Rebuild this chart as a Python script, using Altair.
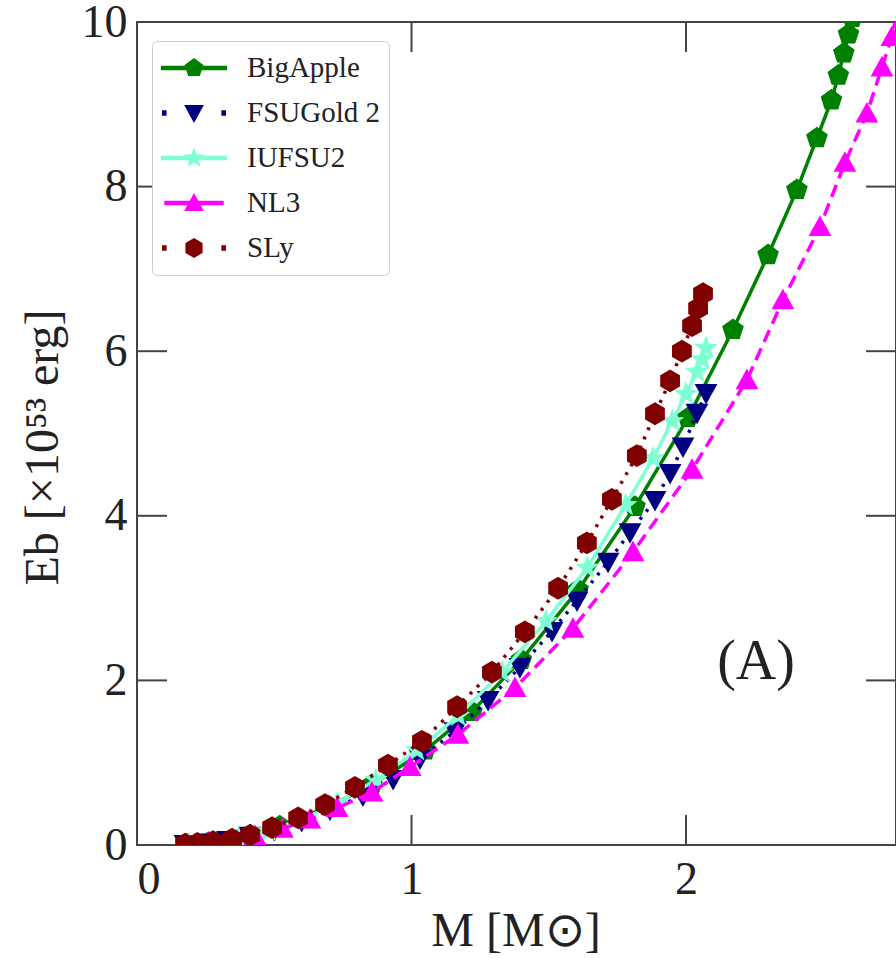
import math
import altair as alt
import pandas as pd

# ---- data: binding energy vs. gravitational mass for five EoS ----
SERIES = ["BigApple", "FSUGold 2", "IUFSU2", "NL3", "SLy"]
COLORS = ["#008000", "#000080", "#7fffd4", "#ff00ff", "#800000"]

BIGAPPLE_M = [0.18, 0.26, 0.375, 0.52, 0.70, 0.856, 1.05, 1.22, 1.40, 1.607, 1.814,
              2.007, 2.171, 2.299, 2.404, 2.477, 2.53, 2.555, 2.575, 2.592, 2.606, 2.62]
BIGAPPLE_EB = [0.01, 0.03, 0.08, 0.23, 0.47, 0.73, 1.15, 1.62, 2.25, 3.10, 4.11,
               5.19, 6.26, 7.17, 7.96, 8.59, 9.05, 9.35, 9.62, 9.85, 10.05, 10.25]

FSUGOLD2_M = [0.175, 0.25, 0.33, 0.412, 0.50, 0.60, 0.703, 0.823, 0.933, 1.031, 1.158,
              1.279, 1.395, 1.512, 1.603, 1.716, 1.796, 1.887, 1.942, 1.989, 2.040, 2.073]
FSUGOLD2_EB = [0.01, 0.03, 0.06, 0.11, 0.18, 0.29, 0.43, 0.60, 0.80, 1.05, 1.38,
               1.76, 2.16, 2.60, 2.97, 3.44, 3.80, 4.19, 4.52, 4.84, 5.25, 5.49]

IUFSU2_M = [0.19, 0.27, 0.37, 0.48, 0.60, 0.73, 0.87, 1.02, 1.17, 1.33, 1.49, 1.64,
            1.78, 1.88, 1.95, 2.00, 2.04, 2.06, 2.073]
IUFSU2_EB = [0.01, 0.03, 0.08, 0.17, 0.31, 0.51, 0.79, 1.15, 1.57, 2.10, 2.72, 3.37,
             4.13, 4.70, 5.15, 5.48, 5.75, 5.90, 6.04]

NL3_M = [0.18, 0.26, 0.34, 0.43, 0.53, 0.63, 0.729, 0.856, 0.995, 1.169, 1.377, 1.588,
         1.807, 2.022, 2.222, 2.353, 2.488, 2.579, 2.659, 2.714, 2.750, 2.78]
NL3_EB = [0.01, 0.03, 0.06, 0.11, 0.20, 0.31, 0.45, 0.64, 0.95, 1.34, 1.91, 2.63,
          3.56, 4.56, 5.65, 6.62, 7.51, 8.29, 8.89, 9.45, 9.82, 10.3]

SLY_M = [0.175, 0.22, 0.277, 0.346, 0.412, 0.492, 0.587, 0.685, 0.794, 0.914, 1.038,
         1.166, 1.293, 1.413, 1.534, 1.639, 1.730, 1.821, 1.887, 1.942, 1.985, 2.022,
         2.044, 2.062]
SLY_EB = [0.01, 0.02, 0.04, 0.07, 0.12, 0.21, 0.33, 0.49, 0.70, 0.97, 1.26, 1.68, 2.10,
          2.59, 3.12, 3.67, 4.20, 4.73, 5.24, 5.64, 6.00, 6.31, 6.52, 6.70]

X_TICKS = [0, 1, 2]
Y_TICKS = [0, 2, 4, 6, 8, 10]
PANEL_LABEL = "(A)"
PANEL_POS = (2.255, 2.22)

# ---- layout / style ----
W, H = 759, 823
FONT = "Liberation Serif"
AXC = "#444444"
TICK_LEN = 30


def poly(points):
    return "M" + " L".join(f"{x:.3f},{y:.3f}" for x, y in points) + " Z"


def regular(n, r=1.0, rot=-90.0, sx=1.0):
    return [(sx * r * math.cos(math.radians(rot + 360.0 * k / n)),
             sx * r * math.sin(math.radians(rot + 360.0 * k / n))) for k in range(n)]


def star(ro=1.0, ri=0.40, s=1.0):
    pts = []
    for k in range(10):
        r = ro if k % 2 == 0 else ri
        a = math.radians(-90 + 36 * k)
        pts.append((s * r * math.cos(a), s * r * math.sin(a)))
    return pts


def tri_up(s=1.0):
    return [(0, -s), (s, 0.8 * s), (-s, 0.8 * s)]


def tri_down(s=1.0):
    return [(-s, -0.8 * s), (s, -0.8 * s), (0, s)]


MARKERS = {
    "BigApple": regular(5, 1.0, -90, 1.0),
    "FSUGold 2": tri_down(1.0),
    "IUFSU2": star(1.0, 0.42, 1.1),
    "NL3": tri_up(1.0),
    "SLy": regular(6, 1.0, -90, 1.0),
}
DASHES = {"BigApple": None, "FSUGold 2": [3, 7], "IUFSU2": None, "NL3": [13, 7], "SLy": [3, 7]}

# legend glyphs: line sample plus marker, drawn as one filled path
LS = 0.30  # marker scale inside the legend glyph


def rect(x0, x1, h):
    return [(x0, -h), (x1, -h), (x1, h), (x0, h)]


def legend_path(name):
    mk = [(x * LS, y * LS) for x, y in MARKERS[name]]
    if name in ("BigApple", "IUFSU2"):
        line = poly(rect(-1, 1, 0.065))
    elif name == "NL3":
        line = poly(rect(-0.9, 0.9, 0.065))
    else:
        line = poly(rect(-0.97, -0.83, 0.08)) + " " + poly(rect(0.83, 0.97, 0.08))
    return line + " " + poly(mk)


LEGEND_PATHS = [legend_path(s) for s in SERIES]

xscale = alt.Scale(domain=[0, 2.765], nice=False, zero=False)
yscale = alt.Scale(domain=[0, 10], nice=False)

xaxis = alt.Axis(values=X_TICKS, format="d", ticks=False, domain=False, grid=False,
                 labelFont=FONT, labelFontSize=46, labelColor="#222", labelPadding=12,
                 title="M [M\u2299]", titleFont=FONT, titleFontSize=48,
                 titleFontWeight="normal", titleColor="#222",
                 titleX=W / 2 - 1, titleY=86, titleBaseline="middle")
yaxis = alt.Axis(values=Y_TICKS, format="d", ticks=False, domain=False, grid=False,
                 labelFont=FONT, labelFontSize=46, labelColor="#222", labelPadding=10,
                 title="Eb [\u00d710\u2075\u00b3 erg]", titleFont=FONT, titleFontSize=48,
                 titleFontWeight="normal", titleColor="#222", titleAngle=-90,
                 titleX=-94, titleY=425, titleAlign="center", titleBaseline="middle")

X = alt.X("M:Q", scale=xscale, axis=xaxis)
Y = alt.Y("Eb:Q", scale=yscale, axis=yaxis)

values = {
    "BigApple": (BIGAPPLE_M, BIGAPPLE_EB),
    "FSUGold 2": (FSUGOLD2_M, FSUGOLD2_EB),
    "IUFSU2": (IUFSU2_M, IUFSU2_EB),
    "NL3": (NL3_M, NL3_EB),
    "SLy": (SLY_M, SLY_EB),
}

layers = []
for name, color in zip(SERIES, COLORS):
    m, eb = values[name]
    df = pd.DataFrame({"M": m, "Eb": eb})
    line_kw = dict(color=color, strokeWidth=3.5, clip=True)
    if DASHES[name]:
        line_kw["strokeDash"] = DASHES[name]
    line = alt.Chart(df).mark_line(**line_kw).encode(x=X, y=Y)
    pts = alt.Chart(df).mark_point(shape=poly(MARKERS[name]), size=520, filled=True,
                                   color=color, opacity=1, clip=True).encode(x=X, y=Y)
    layers += [line, pts]

# legend, driven by explicit scales (no visible marks of its own)
leg = alt.Legend(orient="none", legendX=15, legendY=19, title=None,
                 labelFont=FONT, labelFontSize=29, labelColor="#222", labelOffset=20,
                 symbolSize=66 * 66, symbolOpacity=1, symbolStrokeWidth=0,
                 strokeColor="#cccccc", fillColor="white", cornerRadius=5, padding=9,
                 clipHeight=36, rowPadding=9)
legend_layer = alt.Chart(pd.DataFrame({"series": SERIES})).transform_filter("false").mark_point(
    filled=True).encode(
    x=X, y=Y,
    color=alt.Color("series:N", scale=alt.Scale(domain=SERIES, range=COLORS), legend=leg),
    shape=alt.Shape("series:N", scale=alt.Scale(domain=SERIES, range=LEGEND_PATHS), legend=leg),
)

# inward ticks on all four sides
xt = pd.DataFrame({"M": X_TICKS})
yt = pd.DataFrame({"Eb": Y_TICKS})
rule_kw = dict(color=AXC, strokeWidth=2)
ticks = [
    alt.Chart(xt).mark_rule(**rule_kw).encode(x=X, y=alt.value(H), y2=alt.value(H - TICK_LEN)),
    alt.Chart(xt).mark_rule(**rule_kw).encode(x=X, y=alt.value(0), y2=alt.value(TICK_LEN)),
    alt.Chart(yt).mark_rule(**rule_kw).encode(y=Y, x=alt.value(0), x2=alt.value(TICK_LEN)),
    alt.Chart(yt).mark_rule(**rule_kw).encode(y=Y, x=alt.value(W - TICK_LEN), x2=alt.value(W)),
]

label = alt.Chart(pd.DataFrame({"M": [PANEL_POS[0]], "Eb": [PANEL_POS[1]], "t": [PANEL_LABEL]})).mark_text(
    font=FONT, fontSize=56, color="#222", align="center", baseline="middle").encode(x=X, y=Y, text="t:N")

chart = alt.layer(*ticks, *layers, label, legend_layer).properties(
    width=W, height=H,
    autosize=alt.AutoSizeParams(type="none"),
    padding={"left": 137, "top": 22, "right": 0, "bottom": 113},
    background="white",
).configure_view(stroke=AXC, strokeWidth=2).configure_legend(labelFont=FONT)

chart.save("out.html", embed_options={"renderer": "svg", "actions": False})
